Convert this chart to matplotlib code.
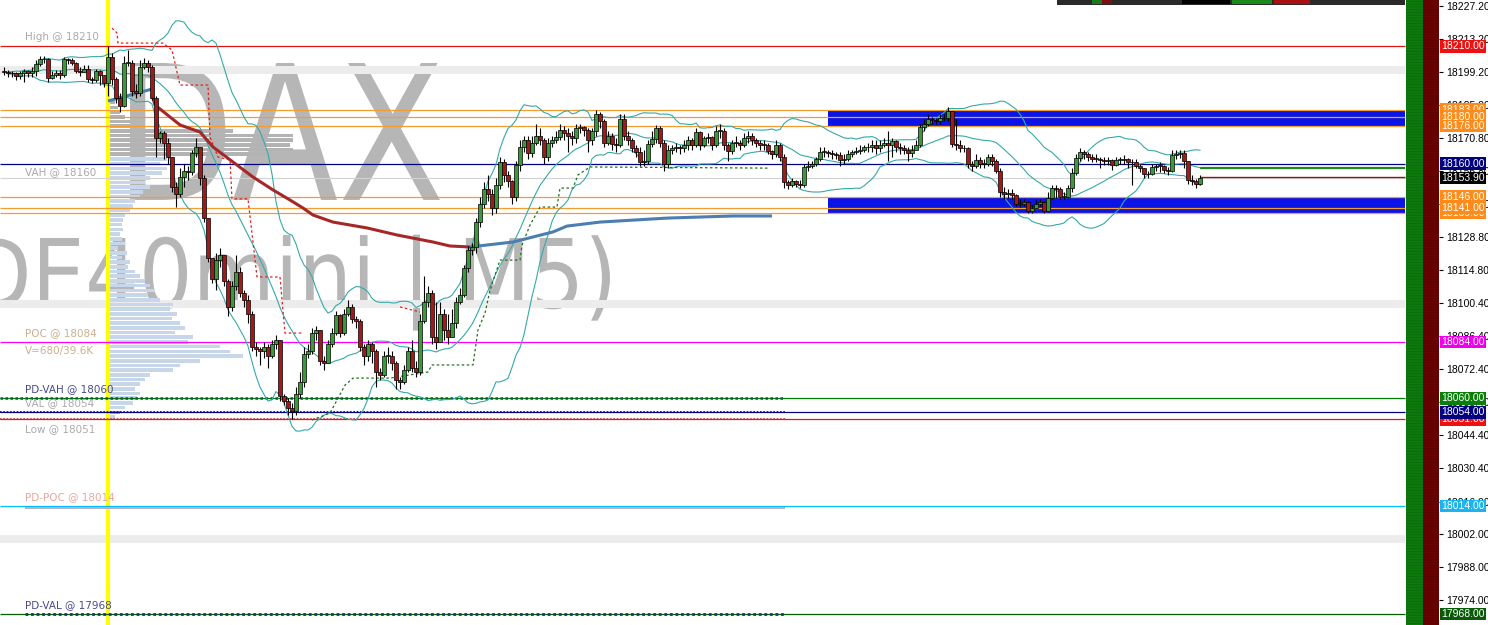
import numpy as np
import pandas as pd
import matplotlib
matplotlib.use("Agg")
import matplotlib.pyplot as plt
from matplotlib.patches import Rectangle, PathPatch
from matplotlib.textpath import TextPath
from matplotlib.font_manager import FontProperties
from matplotlib.transforms import Affine2D, blended_transform_factory

plt.rcParams["font.family"] = ["Liberation Sans", "DejaVu Sans"]
plt.rcParams["hatch.linewidth"] = 0.6

W, H = 1488, 625

# ---- DE40mini M5 candles (one every 5 minutes) ----
closes = [
    18199, 18198.5, 18198.5, 18197.5, 18198.5, 18199.5, 18198.5, 18199.5, 18202.5, 18204.5,
    18204.5, 18196.5, 18198, 18198.5, 18198, 18204.5, 18204, 18203, 18199.5, 18199,
    18200.5, 18196, 18195.5, 18199.5, 18198, 18194.5, 18205.5, 18196, 18188, 18184.5,
    18203, 18203, 18191, 18190, 18201, 18203, 18201, 18188, 18171, 18173,
    18169, 18163, 18150, 18147, 18154.5, 18157, 18156.5, 18164.5, 18167, 18154,
    18137, 18120, 18111, 18119, 18121, 18110, 18099, 18108, 18114, 18105,
    18102, 18096, 18082, 18081, 18080, 18082, 18078, 18083, 18085, 18061,
    18059, 18056, 18054.5, 18062, 18067, 18079, 18080, 18088, 18089, 18076,
    18075, 18083, 18088, 18095.5, 18088, 18096, 18099, 18094, 18093, 18082,
    18078, 18083, 18080, 18071, 18070, 18078, 18078, 18075, 18068, 18067,
    18072, 18080, 18073, 18071, 18093, 18101, 18105, 18086, 18084, 18096,
    18089, 18086, 18092, 18101, 18104, 18115.5, 18123, 18124.5, 18135, 18143,
    18149, 18147, 18141, 18151, 18160.5, 18155, 18152.5, 18146, 18159.5, 18167,
    18170, 18164.5, 18169, 18172, 18170, 18163, 18169, 18170, 18171.5, 18174.5,
    18173, 18172, 18171, 18175, 18175.5, 18174.5, 18170, 18174, 18181, 18178,
    18169, 18172, 18168.5, 18168, 18179, 18172, 18170, 18166.5, 18165, 18160.5,
    18161, 18168.5, 18170.5, 18175, 18169, 18160, 18166, 18166.5, 18167, 18166.5,
    18168, 18170, 18168, 18173.5, 18168, 18171, 18171.5, 18168, 18174, 18174,
    18168, 18165.5, 18169, 18169, 18168, 18171, 18172, 18170, 18169, 18168,
    18168, 18165.5, 18164, 18168, 18163, 18152, 18151, 18152.5, 18151.5, 18151,
    18158.5, 18159, 18160, 18162, 18165, 18165, 18164.5, 18164, 18163.5, 18161.5,
    18162, 18164, 18165, 18165.5, 18166, 18167, 18167, 18168, 18166.5, 18168,
    18169, 18168, 18169.5, 18167, 18166.5, 18166, 18164.5, 18166, 18168, 18175.5,
    18177, 18179, 18178.5, 18178, 18179.5, 18179.5, 18182.5, 18168.5, 18168, 18166.5,
    18166.5, 18160, 18159, 18161.5, 18160, 18160, 18163, 18161, 18157, 18148,
    18147, 18147.5, 18146.5, 18143, 18143, 18143.5, 18140, 18141, 18143, 18143.5,
    18140, 18145.5, 18149.5, 18149, 18146, 18146, 18149.5, 18156, 18162.5, 18165,
    18164, 18163, 18162, 18162, 18161.5, 18161, 18161.5, 18159.5, 18161.5, 18161.5,
    18162, 18160.5, 18160.5, 18159, 18158, 18155.5, 18155.5, 18158.5, 18159, 18159,
    18157.5, 18157, 18163.5, 18164, 18164.5, 18161, 18153, 18152.5, 18151.5, 18153.9,
]
highs = [
    18201, 18200, 18199.5, 18199, 18199.5, 18200.5, 18200, 18201, 18204, 18206,
    18206, 18205, 18199.5, 18200, 18200, 18205.5, 18205, 18205, 18203.5, 18201,
    18202, 18202, 18197, 18200.5, 18200, 18198, 18210, 18207, 18197, 18190,
    18206, 18208.5, 18204, 18194, 18204, 18205, 18204, 18202, 18189, 18174,
    18174, 18171, 18163, 18152, 18158, 18160, 18159, 18166, 18171, 18167,
    18155, 18137, 18120, 18122, 18124, 18121, 18111, 18110, 18121, 18116,
    18106, 18104, 18097, 18084, 18082, 18084, 18083, 18085, 18087, 18085,
    18062, 18060, 18058, 18065, 18071, 18082, 18083, 18090, 18091, 18089,
    18078, 18085, 18090, 18097, 18096, 18098, 18102, 18100, 18095, 18094,
    18083, 18085, 18084, 18081, 18073, 18080, 18082, 18080, 18076, 18069,
    18074, 18082, 18085, 18076, 18096, 18112, 18108, 18106, 18101, 18101,
    18098, 18096, 18098, 18103, 18107, 18117, 18125, 18126, 18137, 18146,
    18152, 18155, 18149, 18154, 18163, 18162, 18157, 18153, 18161, 18170,
    18172, 18172, 18172, 18177, 18175, 18171, 18171, 18172, 18174, 18177,
    18176, 18175, 18174, 18177, 18177, 18176, 18175, 18175, 18183, 18182,
    18179, 18174, 18173, 18171, 18181, 18181, 18174, 18171, 18168, 18167,
    18166, 18170, 18174, 18176.5, 18176, 18170, 18168, 18168, 18169, 18168,
    18170, 18172, 18171, 18175, 18174, 18172, 18173, 18172, 18176, 18177,
    18175, 18169, 18170, 18172, 18170, 18173, 18174, 18173, 18171, 18170,
    18170, 18169, 18166, 18170, 18169, 18164, 18153, 18154, 18153, 18153,
    18160, 18161, 18161, 18163, 18167, 18167, 18166, 18166, 18165, 18165,
    18164, 18166, 18166, 18167, 18168, 18168, 18169, 18170, 18170, 18170,
    18171, 18174, 18171, 18170, 18169, 18168, 18167, 18168, 18170, 18177,
    18179, 18181, 18180, 18179.5, 18181, 18181, 18184, 18182, 18179, 18170,
    18168, 18167, 18161, 18164, 18163, 18162, 18164, 18164, 18162, 18158,
    18150, 18149, 18149, 18147, 18145, 18145, 18144, 18142.5, 18144.5, 18145,
    18144, 18148, 18151, 18151, 18150, 18148, 18151, 18158, 18164, 18166.5,
    18166, 18165, 18164, 18164, 18163, 18163, 18163, 18162, 18163, 18163,
    18163.5, 18162.5, 18162, 18162, 18160, 18158, 18157, 18160, 18160, 18160.5,
    18159.5, 18158.5, 18166, 18166, 18166, 18166, 18161, 18155, 18153.5, 18155,
]
lows = [
    18198, 18197, 18197, 18195.5, 18196, 18195, 18197, 18197, 18197.5, 18201.5,
    18203, 18195, 18196, 18197, 18196, 18197, 18202.5, 18202, 18198.5, 18197.5,
    18199, 18195, 18194.5, 18195, 18193.5, 18192.5, 18189, 18193.5, 18186, 18182,
    18184, 18201.5, 18189, 18188, 18189, 18200.5, 18199, 18187, 18163, 18169,
    18162, 18160, 18148, 18141.5, 18146, 18150, 18153, 18155, 18163, 18151,
    18135, 18118, 18109, 18106, 18116, 18108, 18095, 18097, 18106, 18103,
    18099, 18092, 18080, 18078, 18074, 18077, 18073, 18077, 18081, 18059,
    18057, 18053, 18051, 18053, 18060, 18065, 18077, 18079, 18085, 18074,
    18072, 18075, 18082, 18087, 18086, 18087, 18095, 18092, 18090, 18080,
    18074, 18076, 18075, 18065, 18068, 18069, 18075, 18072, 18064, 18064,
    18066, 18071, 18071, 18069, 18070, 18092, 18099, 18083, 18081, 18085,
    18085, 18083, 18086, 18090, 18100, 18103, 18114, 18121, 18122, 18133,
    18141, 18144, 18138, 18139, 18149, 18152, 18150, 18143, 18144, 18157,
    18165, 18162, 18163, 18168, 18168, 18160, 18161, 18167, 18169, 18170,
    18170, 18165, 18168, 18169, 18173, 18172, 18165, 18168, 18172, 18175,
    18167, 18168, 18166, 18165, 18167, 18170, 18168, 18165, 18163, 18159,
    18159, 18160, 18167, 18169, 18167, 18157, 18158, 18164, 18165, 18164,
    18165, 18166, 18166, 18167, 18166, 18167, 18169, 18166, 18167, 18171,
    18166, 18161, 18164, 18167, 18166, 18167, 18169, 18168, 18167, 18166,
    18166, 18164, 18162, 18163, 18161, 18149.5, 18149, 18150, 18150, 18149.5,
    18150, 18157, 18158, 18159, 18161, 18163, 18163, 18162, 18162, 18159,
    18160, 18161, 18163, 18164, 18164, 18165, 18165, 18165, 18164, 18165,
    18167, 18161, 18163, 18165, 18164, 18164, 18161, 18163, 18166, 18167,
    18174, 18176, 18177, 18177, 18177, 18178, 18178, 18167, 18166, 18165,
    18165, 18158, 18157, 18158, 18158, 18158, 18159, 18159, 18156, 18146,
    18145, 18145.5, 18145, 18142, 18141.5, 18142, 18139, 18139, 18141, 18142,
    18139, 18139.5, 18145, 18145.5, 18145, 18145, 18145.5, 18148, 18155, 18161,
    18162, 18161, 18160.5, 18160.5, 18158, 18159.5, 18159.5, 18157.5, 18159, 18160,
    18160, 18158, 18151, 18158, 18156.5, 18154, 18154, 18155, 18157, 18156.5,
    18156, 18155, 18156.5, 18162, 18162.5, 18158, 18151.5, 18151, 18149.5, 18151,
]
assert len(closes) == len(highs) == len(lows) == 300
first_open = 18199.5
day_start = 26          # first candle of the session (yellow marker)
last_price = 18153.9

# session average line (candle index, price)
ma_up1_x = [26, 37]
ma_up1_y = [18186.7, 18191.8]
ma_dn_x = [37, 37.75, 44, 49, 52.25, 57.25, 62.25, 67.25, 71.5, 74.75, 77.25, 82.25, 90.75, 98.25, 107.25, 111.5, 116.5]
ma_dn_y = [18189.3, 18185, 18176.5, 18173.5, 18167.1, 18160.7, 18154.3, 18148.8, 18144.5, 18141.1, 18138.1, 18135.1, 18132.6, 18129.6, 18126.6, 18124.9, 18124.5]
ma_up2_x = [116.5, 127.25, 137.25, 140.75, 149, 165.75, 182.25, 192]
ma_up2_y = [18124.5, 18126.6, 18130.9, 18133.4, 18135.1, 18136.8, 18137.7, 18137.7]

# trailing stop (dashed), red above price, green below
stop_dn_x = [27, 28.25, 28.5, 39.75, 42, 44, 51, 51.5, 53.5, 56.5, 57, 61, 63.25, 69, 70.25, 74.75]
stop_dn_y = [18217.8, 18215.7, 18211.4, 18211.4, 18208.4, 18193.5, 18193.5, 18171.4, 18162.8, 18161.6, 18145.0, 18145.0, 18111.7, 18111.7, 18087.8, 18087.8]
stop_dn2_x = [99, 104]
stop_dn2_y = [18098.9, 18096.8]
stop_up_x = [77, 81.5, 83.25, 85.25, 87.25, 96.5, 106, 107, 117.25, 118.5, 120.25, 121.5, 124, 129, 129.5, 131.5, 134, 138.25, 139, 142.25, 143.5, 146.5, 191.5]
stop_up_y = [18050.7, 18053.7, 18059.2, 18065.6, 18068.6, 18068.6, 18071.2, 18074.2, 18074.2, 18089.1, 18096.3, 18106.1, 18118.9, 18118.9, 18125.3, 18133.8, 18141.5, 18141.5, 18149.6, 18149.6, 18155.2, 18158.6, 18158.1]

# volume profile of the session, 2-point bins from the top
profile_top = 18186
profile_vol = [26, 41, 51, 77, 102, 102, 629, 936, 936, 920, 936, 803, 291, 256, 291, 266,
               205, 179, 205, 169, 153, 128, 118, 102, 77, 66, 61, 66, 51, 61, 77, 41,
               87, 61, 102, 92, 128, 153, 179, 205, 230, 194, 256, 322, 307, 343, 317, 358,
               383, 332, 424, 399, 562, 614, 680, 460, 358, 322, 205, 179, 153, 128, 153, 138,
               118, 77, 51, 26]

# horizontal levels
level_prices = [18210, 18183, 18180, 18176, 18160, 18146, 18141, 18139, 18084, 18060, 18054, 18051, 18014, 17968]
level_colors = ["#dd1515", "#f39c34", "#f39c34", "#f39c34", "#000080", "#f39c34", "#f39c34", "#f39c34",
                "#ff00ff", "#008000", "#000080", "#dd1515", "#00bfff", "#006400"]
round_levels = [18200, 18100, 18000]
zones = [(18176, 18183), (18139, 18146)]

tick_vals = [18227.2, 18213.2, 18199.2, 18185.2, 18170.8, 18156.8, 18142.8, 18128.8, 18114.8, 18100.4,
             18086.4, 18072.4, 18058.4, 18044.4, 18030.4, 18016.0, 18002.0, 17988.0, 17974.0]

# right-hand price tags, drawn in this order
tag_prices = [18210, 18183, 18180, 18176, 18160, 18153.9, 18139, 18146, 18141, 18084, 18060, 18051, 18054, 18014, 17968]
tag_colors = ["#ee1111", "#ff8c1a", "#ff8c1a", "#ff8c1a", "#000080", "#000000", "#ff8c1a", "#ff8c1a", "#ff8c1a",
              "#ee00ee", "#0a800a", "#ee1111", "#000080", "#1ab4f0", "#0a5a0a"]

left_labels = [("High @ 18210", 18210, 7, "#aaaaaa"),
               ("VAH @ 18160", 18160, -6, "#aaaaaa"),
               ("POC @ 18084", 18084, 6.5, "#c8b08e"),
               ("V=680/39.6K", 18084, -6.5, "#c8b08e"),
               ("PD-VAH @ 18060", 18060, 6.5, "#4a4a8c"),
               ("VAL @ 18054", 18054, 6.5, "#aaaaaa"),
               ("Low @ 18051", 18051, -7, "#aaaaaa"),
               ("PD-POC @ 18014", 18014, 6.5, "#e4a8a0"),
               ("PD-VAL @ 17968", 17968, 6.5, "#4a4a8c")]


def px(x):
    """pixel column -> candle index"""
    return (x - 4) / 4


fig = plt.figure(figsize=(W / 100, H / 100), dpi=100)
ax = fig.add_axes([0, 0, 1439 / W, 1])
ax.set_facecolor("white")
ax.set_autoscale_on(False)
ax.set_xlim(-1, 358.75)
ax.set_ylim(17963.36, 18229.76)
right_end = px(1405)


def watermark(text, cap_px, baseline_px, left=None, right=None, width=None, squeeze=1.0):
    tp = TextPath((0, 0), text, size=1, prop=FontProperties(family="DejaVu Sans"))
    bb = tp.get_extents()
    sy = cap_px / 0.729
    sx = width / bb.width if width else sy * squeeze
    tx = left - bb.x0 * sx if left is not None else right - bb.x1 * sx
    tr = Affine2D().scale(sx, sy).translate(tx, H - baseline_px)
    ax.add_patch(PathPatch(tp, transform=tr, fc="#b6b6b6", ec="none", zorder=0.3))


watermark("DAX", 137, 200, left=130, width=310)
watermark("(DE40mini | M5)", 70, 308, right=610, squeeze=0.88)

for p in round_levels:
    ax.fill_between([-1, right_end], p - 1.7, p + 1.7, color="#ececec", lw=0, zorder=0.5)

for lo_, hi_ in zones:
    ax.fill_between([px(828), right_end], lo_, hi_, color="#0a14e6", lw=0, zorder=0.8)

# volume profile
prof_prices = profile_top - 2 * np.arange(len(profile_vol))
prof_cols = ["#b3b3b3" if p > 18162 else "#c7d6e9" for p in prof_prices]
prof_cols[-2] = "#8fb0d8"
ax.barh(prof_prices, np.array(profile_vol) * 33.25 / 680, left=px(110), height=1.55,
        color=prof_cols, lw=0, zorder=1)

ax.axvline(day_start, color="#ffff00", lw=3, zorder=1.2)

# level lines
for p, c in zip(level_prices, level_colors):
    ax.hlines(p, -1, right_end, color=c, lw=0.9, zorder=1.5)
ax.hlines(last_price, -1, right_end, color="#d2d2d2", lw=0.8, zorder=1.4)
ax.hlines(18060, -1, px(785), color="#0a5a3a", lw=1.8, ls=(0, (1, 1)), zorder=1.6)
ax.hlines(18054, -1, px(785), color="#000080", lw=1.2, ls=(0, (1, 1)), zorder=1.6)
ax.hlines(18051, -1, px(785), color="#c03030", lw=1.2, ls=(0, (1, 1)), zorder=1.6)
ax.hlines(18013.2, px(25), px(785), color="#b8b0bc", lw=1.4, zorder=1.6)
ax.hlines(17968, px(25), px(785), color="#1a3a5a", lw=2.0, ls=(0, (1, 1)), zorder=1.6)
ax.hlines(18158.1, px(1200), right_end, color="#1a8a1a", lw=1.6, zorder=1.6)
ax.hlines(18154.3, px(1200), right_end, color="#8b1a1a", lw=1.0, zorder=1.6)

# Bollinger bands (20, 2)
s = pd.Series(closes)
mid = s.rolling(20, min_periods=2).mean()
sd = s.rolling(20, min_periods=2).std(ddof=0)
idx = np.arange(len(closes))
for band in (mid, mid + 2 * sd, mid - 2 * sd):
    ax.plot(idx, band, color="#35aaa8", lw=0.8, zorder=2)

# average line
ax.plot(ma_up1_x, ma_up1_y, color="#4a7fb0", lw=2.2, zorder=2.2, solid_capstyle="butt")
ax.plot(ma_dn_x, ma_dn_y, color="#a52828", lw=2.2, zorder=2.2, solid_capstyle="butt")
ax.plot(ma_up2_x, ma_up2_y, color="#4a7fb0", lw=2.2, zorder=2.2, solid_capstyle="butt")

# trailing stop
ax.plot(stop_dn_x, stop_dn_y, color="#e02020", lw=0.9, ls=(0, (2, 2)), zorder=2.1)
ax.plot(stop_dn2_x, stop_dn2_y, color="#e02020", lw=0.9, ls=(0, (2, 2)), zorder=2.1)
ax.plot(stop_up_x, stop_up_y, color="#207020", lw=0.9, ls=(0, (2, 2)), zorder=2.1)

# candles
c = np.array(closes)
o = np.array([first_open] + closes[:-1])
hi = np.maximum.reduce([np.array(highs), o, c])
lo = np.minimum.reduce([np.array(lows), o, c])
bull = c >= o
ax.vlines(idx, lo, hi, color="black", lw=0.8, zorder=3)
ax.bar(idx, np.maximum(np.abs(c - o), 0.3), bottom=np.minimum(o, c), width=0.78,
       color=np.where(bull, "#3a9a3a", "#a01a1a"), edgecolor="black", linewidth=0.5, zorder=3.1)

# right-side strips
ax.axvspan(px(1406), px(1423), facecolor="#0e7a0e", edgecolor="#0a6a0a", hatch="------", lw=0, zorder=0.6)
ax.axvspan(px(1423), 358.75, facecolor="#6a0000", edgecolor="#5a0000", hatch="------", lw=0, zorder=0.6)

# left annotations
lab_tr = blended_transform_factory(ax.transAxes, ax.transData)
for text, p, dy, col in left_labels:
    ax.annotate(text, xy=(25 / 1439, p), xycoords=lab_tr, xytext=(0, dy), textcoords="offset points",
                va="center", ha="left", fontsize=7.5, color=col, family="DejaVu Sans", zorder=4)

# y axis on the right
ax.yaxis.tick_right()
ax.set_yticks(tick_vals)
ax.set_yticklabels([f"{v:.2f}" for v in tick_vals])
ax.tick_params(axis="y", length=3, width=0.8, pad=2, labelsize=7.5, direction="out")
ax.set_xticks([])
for sp in ax.spines.values():
    sp.set_visible(False)

for p, col in zip(tag_prices, tag_colors):
    ax.text(1 + 2 / 1439, p, f"{p:.2f}", transform=lab_tr, ha="left", va="center", fontsize=7.5,
            color="white", clip_on=False, zorder=5,
            bbox=dict(boxstyle="square,pad=0.12", fc=col, ec="none"))

# terminal toolbar at the top right
fig.add_artist(Rectangle((1057 / W, 1 - 5 / H), 348 / W, 5 / H, fc="#2a2a2a", ec="none", zorder=6))
for x0, w, col in [(1092, 10, "#1a7a1a"), (1102, 10, "#7a1010"), (1182, 48, "#000000"),
                   (1232, 40, "#1a8a1a"), (1274, 36, "#aa1010")]:
    fig.add_artist(Rectangle((x0 / W, 1 - 4 / H), w / W, 4 / H, fc=col, ec="none", zorder=7))

fig.savefig("out.png", dpi=100)
